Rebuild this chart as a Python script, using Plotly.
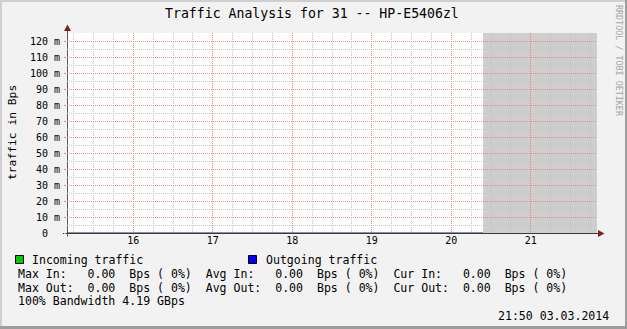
import plotly.graph_objects as go

# ---------------- data ----------------
times = ["2014-03-03 15:10", "2014-03-03 16:00", "2014-03-03 17:00", "2014-03-03 18:00",
         "2014-03-03 19:00", "2014-03-03 20:00", "2014-03-03 20:24"]
incoming = [0, 0, 0, 0, 0, 0, 0]
outgoing = [0, 0, 0, 0, 0, 0, 0]
x_start, x_end = "2014-03-03 15:10", "2014-03-03 21:50"
unknown_start, unknown_end = "2014-03-03 20:24", "2014-03-03 21:50"
x_hours = [16, 17, 18, 19, 20, 21]
x_tick_vals = [f"2014-03-03 {h:02d}:00" for h in x_hours]
x_tick_text = [str(h) for h in x_hours]
x_minor_vals = [f"2014-03-03 {h:02d}:{m:02d}" for h in [15] + x_hours for m in (15, 30, 45)]
y_tick_vals = [0, 0.01, 0.02, 0.03, 0.04, 0.05, 0.06, 0.07, 0.08, 0.09, 0.10, 0.11, 0.12]
y_tick_text = ["0\u00a0\u00a0", "10 m", "20 m", "30 m", "40 m", "50 m", "60 m", "70 m",
               "80 m", "90 m", "100 m", "110 m", "120 m"]
y_minor_vals = [0.005, 0.015, 0.025, 0.035, 0.045, 0.055, 0.065, 0.075, 0.085, 0.095,
                0.105, 0.115, 0.125]
y_max = 0.1255
stat_labels = ["Max", "Avg", "Cur"]
in_values = [0.00, 0.00, 0.00]
in_pct = [0, 0, 0]
out_values = [0.00, 0.00, 0.00]
out_pct = [0, 0, 0]
bandwidth = "4.19 GBps"
title = "Traffic Analysis for 31 -- HP-E5406zl"
stamp = "21:50 03.03.2014"

# ---------------- geometry ----------------
W, H = 627, 329
L, R, T, B = 67, 30, 33, 96
PW, PH = W - L - R, H - T - B
FONT = "DejaVu Sans Mono"
MAJOR = "#e38a8a"
MINOR = "#c4c4c4"


def fx(p):
    return (p - L) / PW


def fy(p):
    return (T + PH - p) / PH


def nb(s):
    return s.replace(" ", "\u00a0")


fig = go.Figure()
fig.add_trace(go.Scatter(x=times, y=incoming, mode="lines", fill="tozeroy",
                         fillcolor="#00cc00", line=dict(color="#00cc00", width=0),
                         name="Incoming traffic", showlegend=False, hoverinfo="skip"))
fig.add_trace(go.Scatter(x=times, y=outgoing, mode="lines",
                         line=dict(color="#1c1c66", width=1.2),
                         name="Outgoing traffic", showlegend=False, hoverinfo="skip"))

shapes = []
# unknown data region
shapes.append(dict(type="rect", xref="x", yref="y domain", x0=unknown_start, x1=unknown_end,
                   y0=0, y1=1, fillcolor="#cecece", line=dict(width=0), layer="below"))
# axes lines
shapes.append(dict(type="line", xref="paper", yref="paper", x0=fx(67.5), x1=fx(67.5),
                   y0=fy(236.5), y1=fy(29), line=dict(color="#5a5a5a", width=1), layer="between"))
shapes.append(dict(type="line", xref="paper", yref="paper", x0=fx(63), x1=fx(599),
                   y0=fy(233.5), y1=fy(233.5), line=dict(color="#3a3a3a", width=1), layer="between"))
# arrows
shapes.append(dict(type="path", xref="paper", yref="paper",
                   path=f"M {fx(67.5)},{fy(24.5)} L {fx(64)},{fy(31)} L {fx(71)},{fy(31)} Z",
                   fillcolor="#801f1f", line=dict(width=0), layer="above"))
shapes.append(dict(type="path", xref="paper", yref="paper",
                   path=f"M {fx(604.5)},{fy(233.5)} L {fx(598)},{fy(230)} L {fx(598)},{fy(237)} Z",
                   fillcolor="#801f1f", line=dict(width=0), layer="above"))
# legend boxes
shapes.append(dict(type="rect", xref="paper", yref="paper", x0=fx(15.5), x1=fx(23.5),
                   y0=fy(263.5), y1=fy(255.5), fillcolor="#00cc00",
                   line=dict(color="#000000", width=1), layer="above"))
shapes.append(dict(type="rect", xref="paper", yref="paper", x0=fx(248.5), x1=fx(256.5),
                   y0=fy(263.5), y1=fy(255.5), fillcolor="#0000ff",
                   line=dict(color="#000000", width=1), layer="above"))
# 3D frame
shapes.append(dict(type="rect", xref="paper", yref="paper", x0=fx(0), x1=fx(W), y0=fy(0), y1=fy(2),
                   fillcolor="#cfcfcf", line=dict(width=0), layer="above"))
shapes.append(dict(type="rect", xref="paper", yref="paper", x0=fx(0), x1=fx(2), y0=fy(0), y1=fy(H),
                   fillcolor="#cfcfcf", line=dict(width=0), layer="above"))
shapes.append(dict(type="rect", xref="paper", yref="paper", x0=fx(W - 2), x1=fx(W), y0=fy(0), y1=fy(H),
                   fillcolor="#9e9e9e", line=dict(width=0), layer="above"))
shapes.append(dict(type="rect", xref="paper", yref="paper", x0=fx(0), x1=fx(W), y0=fy(H - 3), y1=fy(H),
                   fillcolor="#9e9e9e", line=dict(width=0), layer="above"))

ann = []


def text(s, x, y, size=11.56, xanchor="left", color="#000000", angle=0):
    ann.append(dict(text=nb(s), x=fx(x), y=fy(y), xref="paper", yref="paper",
                    xanchor=xanchor, yanchor="middle", showarrow=False, textangle=angle,
                    font=dict(family=FONT, size=size, color=color)))


text(title, 312, 13.5, size=13.2, xanchor="center")
text("traffic in Bps", 12, 133, size=11.3, xanchor="center", angle=-90)
text("RRDTOOL / TOBI OETIKER", 619, 61, size=8.4, xanchor="center", color="#a6a6a6", angle=90)
text("Incoming traffic", 30, 259.5)
text("Outgoing traffic", 263.5, 259.5)

row_in = "  ".join(f"{lab} In:   {v:.2f}  Bps ({p:2d}%)" for lab, v, p in zip(stat_labels, in_values, in_pct))
row_out = "  ".join(f"{lab} Out:  {v:.2f}  Bps ({p:2d}%)" for lab, v, p in zip(stat_labels, out_values, out_pct))
text(row_in, 16, 273.5)
text(row_out, 16, 287.5)
text(f"100% Bandwidth {bandwidth}", 16, 301)
text(stamp, 611, 316, xanchor="right")

fig.update_layout(
    width=W, height=H, margin=dict(l=L, r=R, t=T, b=B, pad=0),
    paper_bgcolor="#f2f2f2", plot_bgcolor="#ffffff",
    showlegend=False, shapes=shapes, annotations=ann,
    font=dict(family=FONT, size=10, color="#000000"),
    xaxis=dict(type="date", range=[x_start, x_end], tickmode="array",
               tickvals=x_tick_vals, ticktext=x_tick_text, showline=False, zeroline=False,
               showgrid=True, gridcolor=MAJOR, griddash="1px,1px", gridwidth=1,
               ticks="", ticklen=0,
               tickfont=dict(family=FONT, size=10, color="#000000"),
               minor=dict(tickmode="array", tickvals=x_minor_vals, showgrid=True,
                          gridcolor=MINOR, griddash="1px,1px", gridwidth=1, ticks=""),
               layer="below traces", fixedrange=True),
    yaxis=dict(range=[0, y_max], tickmode="array", tickvals=y_tick_vals, ticktext=y_tick_text,
               showline=False, zeroline=False,
               showgrid=True, gridcolor=MAJOR, griddash="1px,1px", gridwidth=1,
               ticks="outside", ticklen=2, tickcolor=MAJOR, ticklabelstandoff=2,
               tickfont=dict(family=FONT, size=10, color="#000000"),
               minor=dict(tickmode="array", tickvals=y_minor_vals, showgrid=True, gridcolor=MINOR,
                          griddash="1px,1px", gridwidth=1, ticks=""),
               layer="below traces", fixedrange=True),
)

fig.write_html("out.html")
